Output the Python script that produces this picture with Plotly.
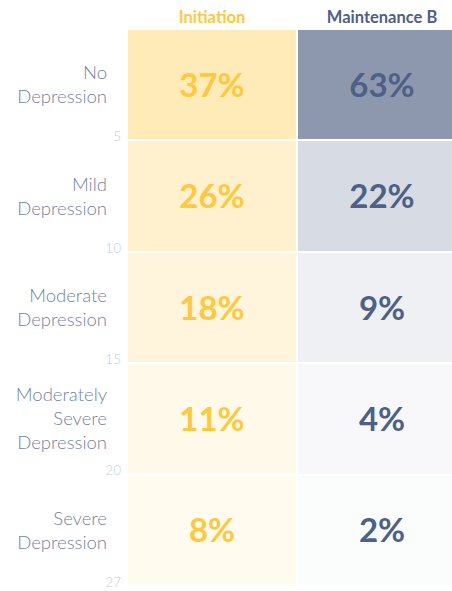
import plotly.graph_objects as go

# Data
columns = ['Initiation', 'Maintenance B']
rows = ['No<br>Depression', 'Mild<br>Depression', 'Moderate<br>Depression',
        'Moderately<br>Severe<br>Depression', 'Severe<br>Depression']
initiation = [0.37, 0.26, 0.18, 0.11, 0.08]
maintenance = [0.63, 0.22, 0.09, 0.04, 0.02]
score_ticks = ['5', '10', '15', '20', '27']

gold = '#FFC83D'
navy = '#4A5C80'
navy_text = '#4E6085'

fig = go.Figure()

for i, (vals, base, txt) in enumerate([(initiation, gold, gold),
                                        (maintenance, navy, navy_text)]):
    fig.add_trace(go.Heatmap(
        x=[i], y=list(range(len(rows))), z=[[v] for v in vals],
        zmin=0, zmax=1, colorscale=[[0, '#FFFFFF'], [1, base]],
        showscale=False, xgap=2, ygap=2,
        text=[[f'{round(v*100)}%'] for v in vals], texttemplate='%{text}',
        textfont=dict(family='Lato', size=33, color=txt, weight='bold'),
        hoverinfo='skip'
    ))

# invisible trace to anchor the score axis
fig.add_trace(go.Scatter(x=[0], y=[None], yaxis='y2',
                         mode='markers', showlegend=False, hoverinfo='skip'))

# the chart runs past the right edge of the window, as in the original
fig.update_layout(
    width=467, height=591,
    margin=dict(l=127, r=0, t=29, b=5),
    plot_bgcolor='white', paper_bgcolor='white',
    font=dict(family='Lato'),
    xaxis=dict(
        side='top', showgrid=False, zeroline=False, showline=False,
        range=[-0.5, 1.5], tickvals=[0, 1],
        ticktext=[f'<span style="color:{gold}">{columns[0]}</span>',
                  f'<span style="color:{navy_text}">{columns[1]}</span>'],
        tickfont=dict(size=16.5, weight='bold'), ticklabelstandoff=2,
        fixedrange=True
    ),
    yaxis=dict(
        range=[4.5, -0.5], showgrid=False, zeroline=False, showline=False,
        tickvals=list(range(len(rows))), ticktext=rows,
        tickfont=dict(size=18.5, color='#7184A4', weight=300),
        ticklabelstandoff=19, fixedrange=True
    ),
    yaxis2=dict(
        overlaying='y', side='left', range=[5, 0], showgrid=False,
        zeroline=False, showline=False,
        tickvals=[i + 0.965 for i in range(5)], ticktext=score_ticks,
        tickfont=dict(size=13.5, color='#C5CDDE', weight=300),
        ticklabelstandoff=5, fixedrange=True
    ),
    showlegend=False
)

fig.write_html('out.html', config={'displayModeBar': False},
               post_script="document.body.style.margin='0';"
                           "document.body.style.overflow='hidden';")
